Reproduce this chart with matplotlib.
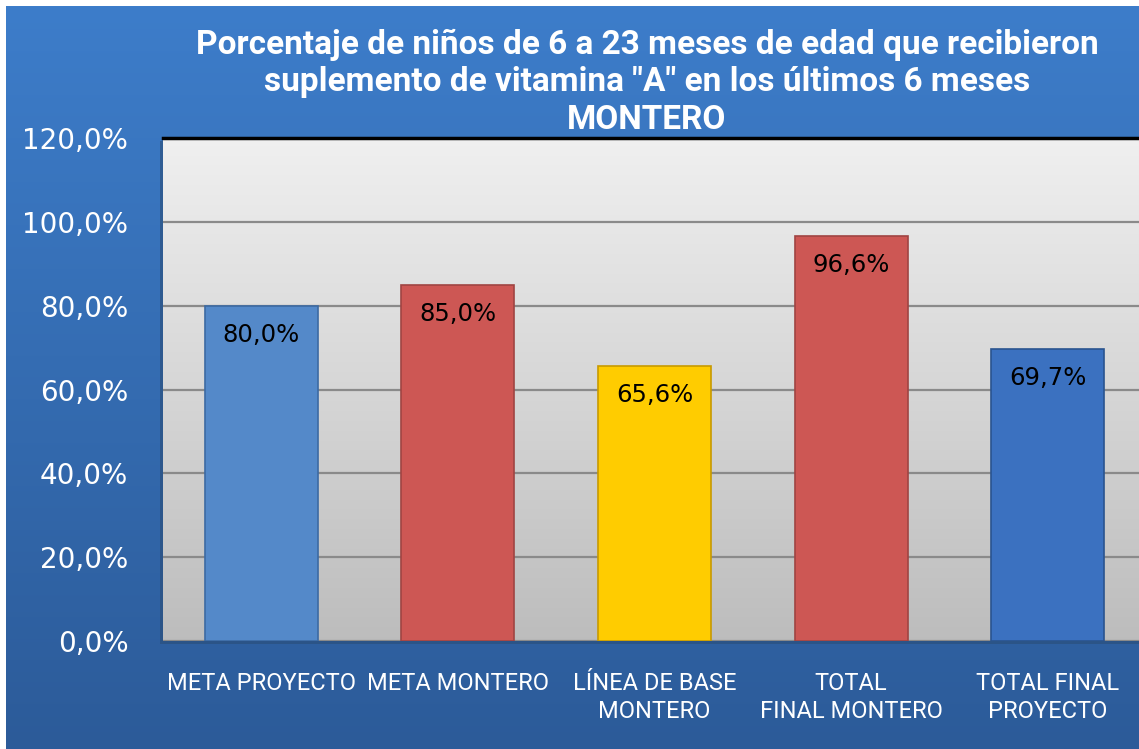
import numpy as np
import matplotlib
matplotlib.use("Agg")
import matplotlib.pyplot as plt
from matplotlib import font_manager

# data
categories = ["META PROYECTO", "META MONTERO", "LÍNEA DE BASE\nMONTERO",
              "TOTAL\nFINAL MONTERO", "TOTAL FINAL\nPROYECTO"]
values = [80.0, 85.0, 65.6, 96.6, 69.7]
bar_colors = ["#5489C9", "#CD5754", "#FFCC00", "#CD5754", "#3B71C0"]
edge_colors = ["#3C6AA3", "#A04442", "#C89A00", "#A04442", "#2A548F"]
yticks = [0, 20, 40, 60, 80, 100, 120]

installed = {f.name for f in font_manager.fontManager.ttflist}
narrow = "Liberation Sans Narrow" if "Liberation Sans Narrow" in installed else "Roboto"

W, H = 1139, 749
fig = plt.figure(figsize=(W / 100, H / 100), dpi=100)
fig.patch.set_facecolor("white")

# blue gradient background
bg = fig.add_axes([6 / W, 0, 1, 1 - 6 / H], zorder=-10)
grad = np.linspace(0, 1, 256)[:, None]
top_c = np.array([61, 125, 202]) / 255
bot_c = np.array([44, 91, 153]) / 255
img = top_c[None, None, :] * (1 - grad[..., None]) + bot_c[None, None, :] * grad[..., None]
bg.imshow(img, aspect="auto", extent=[0, 1, 0, 1])
bg.set_axis_off()

left, right, top, bottom = 163, 1146, 138, 641
rect = [left / W, 1 - bottom / H, (right - left) / W, (bottom - top) / H]

# plot-area shadow
shadow = fig.add_axes([(left - 3) / W, 1 - (bottom + 3) / H, (right - left) / W, (bottom - top) / H], zorder=-5)
shadow.set_facecolor("#2a4d78")
shadow.patch.set_alpha(0.6)
shadow.set_xticks([]); shadow.set_yticks([])
for s in shadow.spines.values():
    s.set_visible(False)

ax = fig.add_axes(rect)
x = np.arange(len(categories))
ax.set_xlim(-0.5, len(categories) - 0.5)
ax.set_ylim(0, 120)

# plot-area gradient
pg = np.linspace(0, 1, 256)[:, None]
pa = np.array([0.94, 0.94, 0.94]) * (1 - pg[..., None]) + np.array([0.74, 0.74, 0.74]) * pg[..., None]
ax.imshow(pa, aspect="auto", extent=[-0.5, len(categories) - 0.5, 0, 120], zorder=0)

ax.set_yticks(yticks)
ax.yaxis.grid(True, color="#8a8a8a", linewidth=1.6, zorder=1)
ax.set_axisbelow(True)

bars = ax.bar(x, values, width=0.575, color=bar_colors, edgecolor=edge_colors, linewidth=1.2, zorder=3)

for b, v in zip(bars, values):
    ax.annotate(f"{v:.1f}%".replace(".", ","), (b.get_x() + b.get_width() / 2, v),
                xytext=(0, -21), textcoords="offset points", ha="center", va="center",
                fontsize=17.5, color="black", family="DejaVu Sans", zorder=4)

ax.set_yticklabels([f"{t:.1f}%".replace(".", ",") for t in yticks],
                   fontsize=20, color="white", family="DejaVu Sans")
ax.tick_params(axis="y", length=0, pad=25)
ax.set_xticks(x)
ax.set_xticklabels(categories, fontsize=17, color="white", family=narrow, linespacing=1.3)
ax.tick_params(axis="x", length=0, pad=22)

for s in ["left", "right", "bottom"]:
    ax.spines[s].set_visible(False)
ax.spines["top"].set_color("black")
ax.spines["top"].set_linewidth(2.5)

fig.text(647 / W, 1 - 82 / H,
         "Porcentaje de niños de 6 a 23 meses de edad que recibieron\n"
         "suplemento de vitamina \"A\" en los últimos 6 meses\nMONTERO",
         ha="center", va="center", color="white", fontsize=24, fontweight="bold",
         family=narrow, linespacing=1.22)

fig.savefig("out.png", dpi=100, facecolor=fig.get_facecolor())
